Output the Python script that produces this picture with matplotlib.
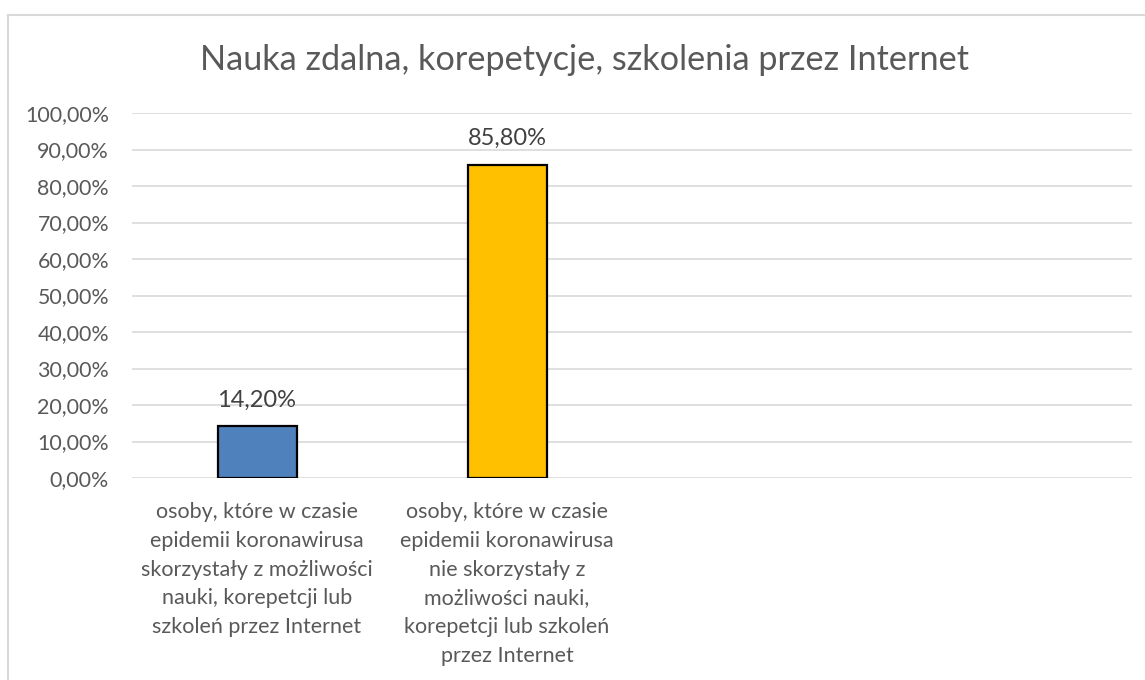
import matplotlib.pyplot as plt
from matplotlib.lines import Line2D
from matplotlib.ticker import FuncFormatter

# data
categories = [
    "osoby, które w czasie\nepidemii koronawirusa\nskorzystały z możliwości\nnauki, korepetcji lub\nszkoleń przez Internet",
    "osoby, które w czasie\nepidemii koronawirusa\nnie skorzystały z\nmożliwości nauki,\nkorepetcji lub szkoleń\nprzez Internet",
]
values = [14.2, 85.8]
bar_colors = ["#4F81BD", "#FFC000"]
title = "Nauka zdalna, korepetycje, szkolenia przez Internet"
yticks = [0, 10, 20, 30, 40, 50, 60, 70, 80, 90, 100]

plt.rcParams['font.family'] = ['Lato', 'DejaVu Sans']
txt = "#595959"

fig = plt.figure(figsize=(11.45, 6.8), dpi=100)
W, H = 1145, 680
# plot area in pixels: left 132, right 1132, top 113, bottom 478
ax = fig.add_axes([132 / W, 1 - 478 / H, 1000 / W, 365 / H])

x = list(range(len(categories)))
bars = ax.bar(x, values, width=0.316, color=bar_colors, edgecolor="black",
              linewidth=1.6, zorder=3)
for b, v in zip(bars, values):
    ax.text(b.get_x() + b.get_width() / 2, v + 7.2, f"{v:.2f}%".replace(".", ","),
            ha="center", va="center", fontsize=17, color="#404040")

ax.set_xlim(-0.5, 3.5)
ax.set_ylim(0, 100)
ax.set_yticks(yticks)
ax.yaxis.set_major_formatter(FuncFormatter(lambda v, p: f"{v:.2f}%".replace(".", ",")))
ax.grid(axis="y", color="#D9D9D9", linewidth=1.2, zorder=0)
for s in ax.spines.values():
    s.set_visible(False)
ax.tick_params(axis="y", length=0, pad=16.5, labelsize=15.4, labelcolor=txt)
ax.tick_params(axis="x", length=0, pad=17)
ax.set_xticks(x)
ax.set_xticklabels(categories, fontsize=15.5, color=txt, linespacing=1.56, va="top")

fig.text(584 / W, 1 - 60 / H, title, ha="center", va="center", fontsize=24.7, color=txt)

# chart frame (left and top edges)
fig.add_artist(Line2D([8 / W, 8 / W], [0, 1 - 15 / H], transform=fig.transFigure,
                      color="#D9D9D9", linewidth=1.5))
fig.add_artist(Line2D([8 / W, 1], [1 - 15 / H, 1 - 15 / H], transform=fig.transFigure,
                      color="#D9D9D9", linewidth=1.5))

plt.savefig("out.png", dpi=100)
